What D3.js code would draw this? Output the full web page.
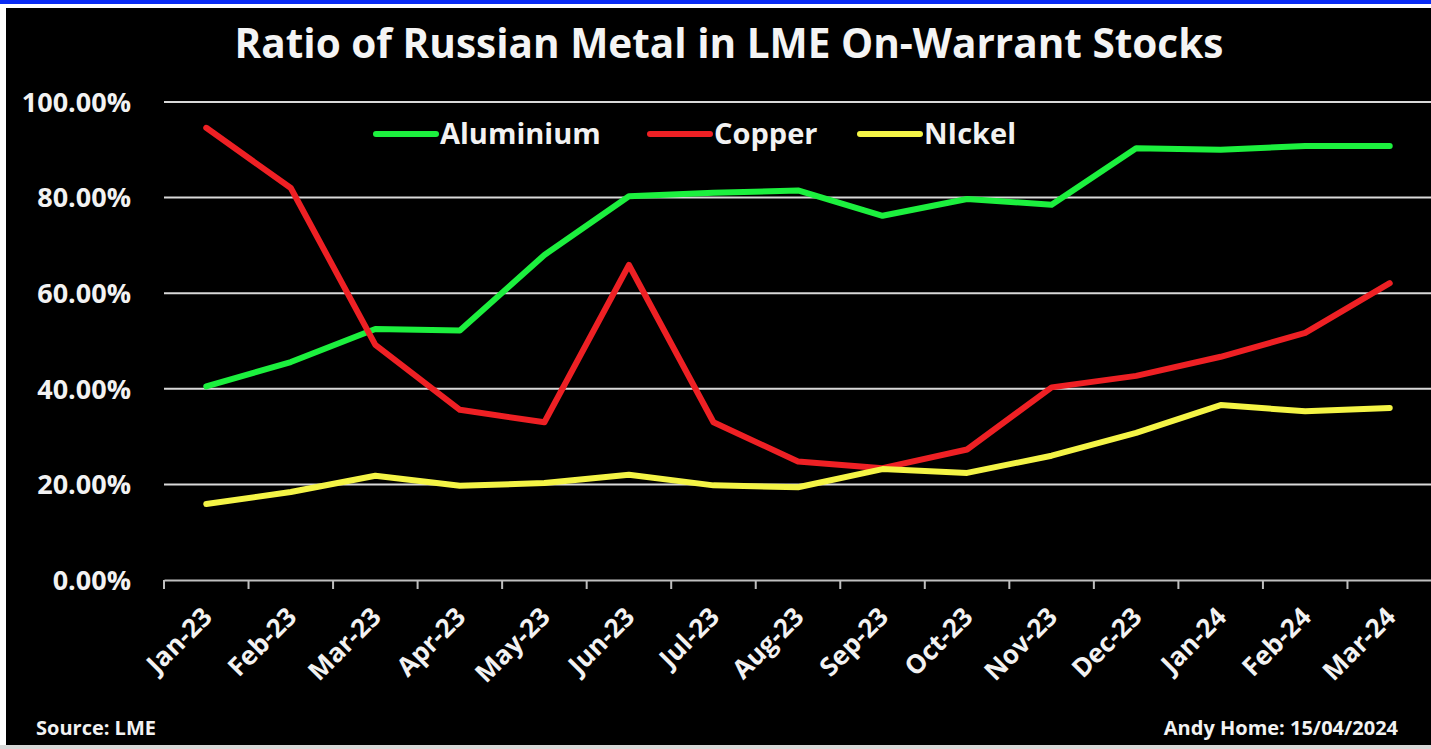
<!DOCTYPE html>
<html>
<head>
<meta charset="utf-8">
<script src="https://cdn.jsdelivr.net/npm/d3@7"></script>
<style>
  body { margin: 0; background: #fff; }
  svg { display: block; font-family: "Open Sans", Lato, sans-serif; font-weight: bold; }
</style>
</head>
<body>
<div id="container"></div>
<script>
const months = ['Jan-23', 'Feb-23', 'Mar-23', 'Apr-23', 'May-23', 'Jun-23', 'Jul-23', 'Aug-23',
  'Sep-23', 'Oct-23', 'Nov-23', 'Dec-23', 'Jan-24', 'Feb-24', 'Mar-24'];
const aluminium = [40.5, 45.6, 52.5, 52.2, 68, 80.3, 81, 81.5, 76.2, 79.7, 78.5, 90.3, 90.0, 90.8, 90.8];
const copper = [94.6, 82, 49.2, 35.6, 33, 65.9, 33, 24.8, 23.4, 27.3, 40.3, 42.7, 46.7, 51.7, 62.1];
const nickel = [15.9, 18.4, 21.8, 19.7, 20.3, 22, 19.8, 19.4, 23.2, 22.4, 26, 30.8, 36.6, 35.3, 36];
const yTicks = [0, 20, 40, 60, 80, 100];

const series = [
  { name: 'Aluminium', values: aluminium, color: '#1cf03e' },
  { name: 'Copper', values: copper, color: '#ee2024' },
  { name: 'NIckel', values: nickel, color: '#f4f446' },
];

const width = 1431;
const height = 749;

const svg = d3.select('#container').append('svg').attr('width', width).attr('height', height);

// frame: blue strip on top, black panel
svg.append('rect').attr('x', 0).attr('y', 0).attr('width', width).attr('height', 4).attr('fill', '#0a2cf5');
svg.append('rect').attr('x', 6).attr('y', 8).attr('width', width - 6).attr('height', 737).attr('fill', '#000');
svg.append('rect').attr('x', 0).attr('y', 745).attr('width', width).attr('height', 4).attr('fill', '#d8d8d8');

const x = d3.scaleBand().domain(months).range([164, 1432]);
const y = d3.scaleLinear().domain([0, 100]).range([580, 102]);

// gridlines
svg
  .append('g')
  .selectAll('line')
  .data(yTicks.filter((d) => d > 0))
  .join('line')
  .attr('x1', 164)
  .attr('x2', width)
  .attr('y1', (d) => y(d))
  .attr('y2', (d) => y(d))
  .attr('stroke', '#d9d9d9')
  .attr('stroke-width', 2);

// y labels
svg
  .append('g')
  .selectAll('text')
  .data(yTicks)
  .join('text')
  .attr('x', 131)
  .attr('y', (d) => y(d))
  .attr('dy', '0.36em')
  .attr('text-anchor', 'end')
  .attr('fill', '#f2f2f2')
  .style('font-size', '27px')
  .text((d) => d.toFixed(2) + '%');

// x axis
const xAxis = svg
  .append('g')
  .attr('transform', `translate(0,${y(0)})`)
  .call(d3.axisBottom(x).tickSize(0).tickFormat(''));
xAxis.select('.domain').attr('stroke', '#bfbfbf').attr('stroke-width', 2);

svg
  .append('g')
  .selectAll('line')
  .data(months)
  .join('line')
  .attr('x1', (d) => x(d))
  .attr('x2', (d) => x(d))
  .attr('y1', y(0))
  .attr('y2', y(0) + 9)
  .attr('stroke', '#bfbfbf')
  .attr('stroke-width', 2);

svg
  .append('g')
  .selectAll('text')
  .data(months)
  .join('text')
  .attr('transform', (d) => `translate(${x(d) + x.bandwidth() / 2 + 1},${y(0) + 32}) rotate(-45)`)
  .attr('text-anchor', 'end')
  .attr('dy', '0.35em')
  .attr('fill', '#f2f2f2')
  .style('font-size', '26px')
  .text((d) => d);

// lines
const line = d3
  .line()
  .x((d, i) => x(months[i]) + x.bandwidth() / 2)
  .y((d) => y(d));

svg
  .append('g')
  .selectAll('path')
  .data(series)
  .join('path')
  .attr('d', (d) => line(d.values))
  .attr('fill', 'none')
  .attr('stroke', (d) => d.color)
  .attr('stroke-width', 6)
  .attr('stroke-linejoin', 'round')
  .attr('stroke-linecap', 'round');

// legend
const legendX = [376, 650, 860];
const legend = svg
  .append('g')
  .selectAll('g')
  .data(series)
  .join('g')
  .attr('transform', (d, i) => `translate(${legendX[i]},134)`);
legend
  .append('line')
  .attr('x1', 0)
  .attr('x2', 60)
  .attr('stroke', (d) => d.color)
  .attr('stroke-width', 6)
  .attr('stroke-linecap', 'round');
legend
  .append('text')
  .attr('x', 64)
  .attr('dy', '0.36em')
  .attr('fill', '#f2f2f2')
  .style('font-size', '29px')
  .text((d) => d.name);

// title
svg
  .append('text')
  .attr('x', 729)
  .attr('y', 58)
  .attr('text-anchor', 'middle')
  .attr('fill', '#f4f4f4')
  .style('font-size', '40.5px')
  .text('Ratio of Russian Metal in LME On-Warrant Stocks');

// footers
svg
  .append('text')
  .attr('x', 36)
  .attr('y', 735)
  .attr('fill', '#f2f2f2')
  .style('font-size', '20px')
  .text('Source: LME');
svg
  .append('text')
  .attr('x', 1398)
  .attr('y', 735)
  .attr('text-anchor', 'end')
  .attr('fill', '#f2f2f2')
  .style('font-size', '20px')
  .text('Andy Home: 15/04/2024');
</script>
</body>
</html>
